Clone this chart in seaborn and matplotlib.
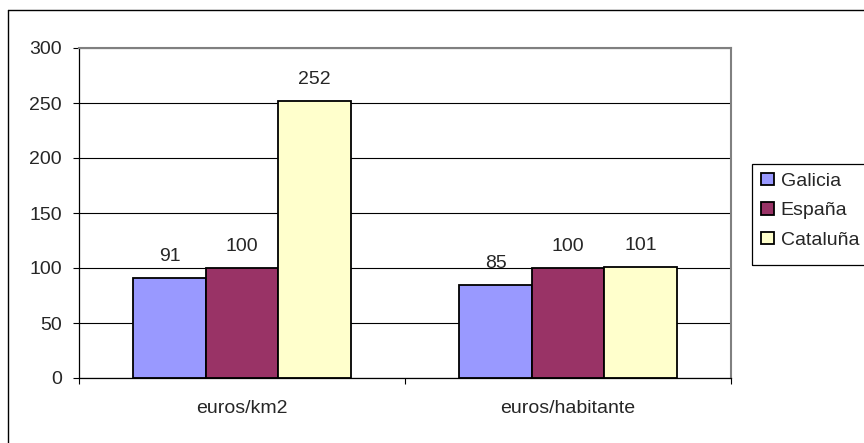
import pandas as pd
import matplotlib
matplotlib.use('Agg')
import matplotlib.pyplot as plt
import seaborn as sns

categorias = ['euros/km2', 'euros/habitante']
regiones = ['Galicia', 'España', 'Cataluña']
galicia = [91, 85]
espana = [100, 100]
cataluna = [252, 101]
colores = ['#9999FF', '#993366', '#FFFFCC']

datos = pd.DataFrame({
    'medida': categorias * 3,
    'region': [r for r in regiones for _ in categorias],
    'valor': galicia + espana + cataluna,
})

sns.set_theme(style='white')
plt.rcParams['font.family'] = ['Liberation Sans', 'DejaVu Sans']

fig = plt.figure(figsize=(8.64, 4.43), dpi=100)
ax = fig.add_axes([79 / 864, 1 - 378 / 443, 652 / 864, 330 / 443])

sns.barplot(data=datos, x='medida', y='valor', hue='region', order=categorias,
            hue_order=regiones, palette=colores, width=2 / 3, gap=0,
            edgecolor='black', linewidth=1.3, saturation=1, errorbar=None, ax=ax)

for c in ax.containers:
    ax.bar_label(c, padding=9, fontsize=14, fmt='%g')

ax.set_xlim(-0.5, 1.5)
ax.set_ylim(0, 300)
ax.set_yticks(range(0, 301, 50))
ax.set_xlabel('')
ax.set_ylabel('')
ax.tick_params(axis='y', labelsize=14, length=4.3, width=0.8, color='black', pad=8, direction='out', left=True)
ax.tick_params(axis='x', which='major', labelsize=14, length=0, pad=16)
ax.set_xticks([-0.5, 0.5, 1.5], minor=True)
ax.tick_params(axis='x', which='minor', length=4.3, width=0.8, color='black', direction='out', bottom=True)

ax.set_axisbelow(True)
ax.yaxis.grid(True, color='black', linewidth=0.8)
for s in ['left', 'bottom']:
    ax.spines[s].set_color('black')
    ax.spines[s].set_linewidth(0.9)
for s in ['top', 'right']:
    ax.spines[s].set_color('#808080')
    ax.spines[s].set_linewidth(1.5)

handles, labels = ax.get_legend_handles_labels()
ax.get_legend().remove()
leg = fig.legend(handles, labels, loc='upper left', bbox_to_anchor=(752 / 864, 1 - 164 / 443),
                 fontsize=14, frameon=False,
                 handlelength=0.67, handleheight=0.6, handletextpad=0.35,
                 labelspacing=0.65, borderpad=0.45, borderaxespad=0)

# legend box runs off the right edge, as in the reference
fig.add_artist(plt.Rectangle((752 / 864, 1 - 265 / 443), 0.3, 101 / 443, fill=False,
                             edgecolor='black', lw=0.9, transform=fig.transFigure))

# chart area border (only top and left visible)
fig.add_artist(plt.Line2D([8 / 864, 1.2], [1 - 10 / 443, 1 - 10 / 443], color='black', lw=1.0, transform=fig.transFigure))
fig.add_artist(plt.Line2D([8 / 864, 8 / 864], [1 - 10 / 443, -0.2], color='black', lw=1.0, transform=fig.transFigure))

fig.savefig('out.png', dpi=100)
